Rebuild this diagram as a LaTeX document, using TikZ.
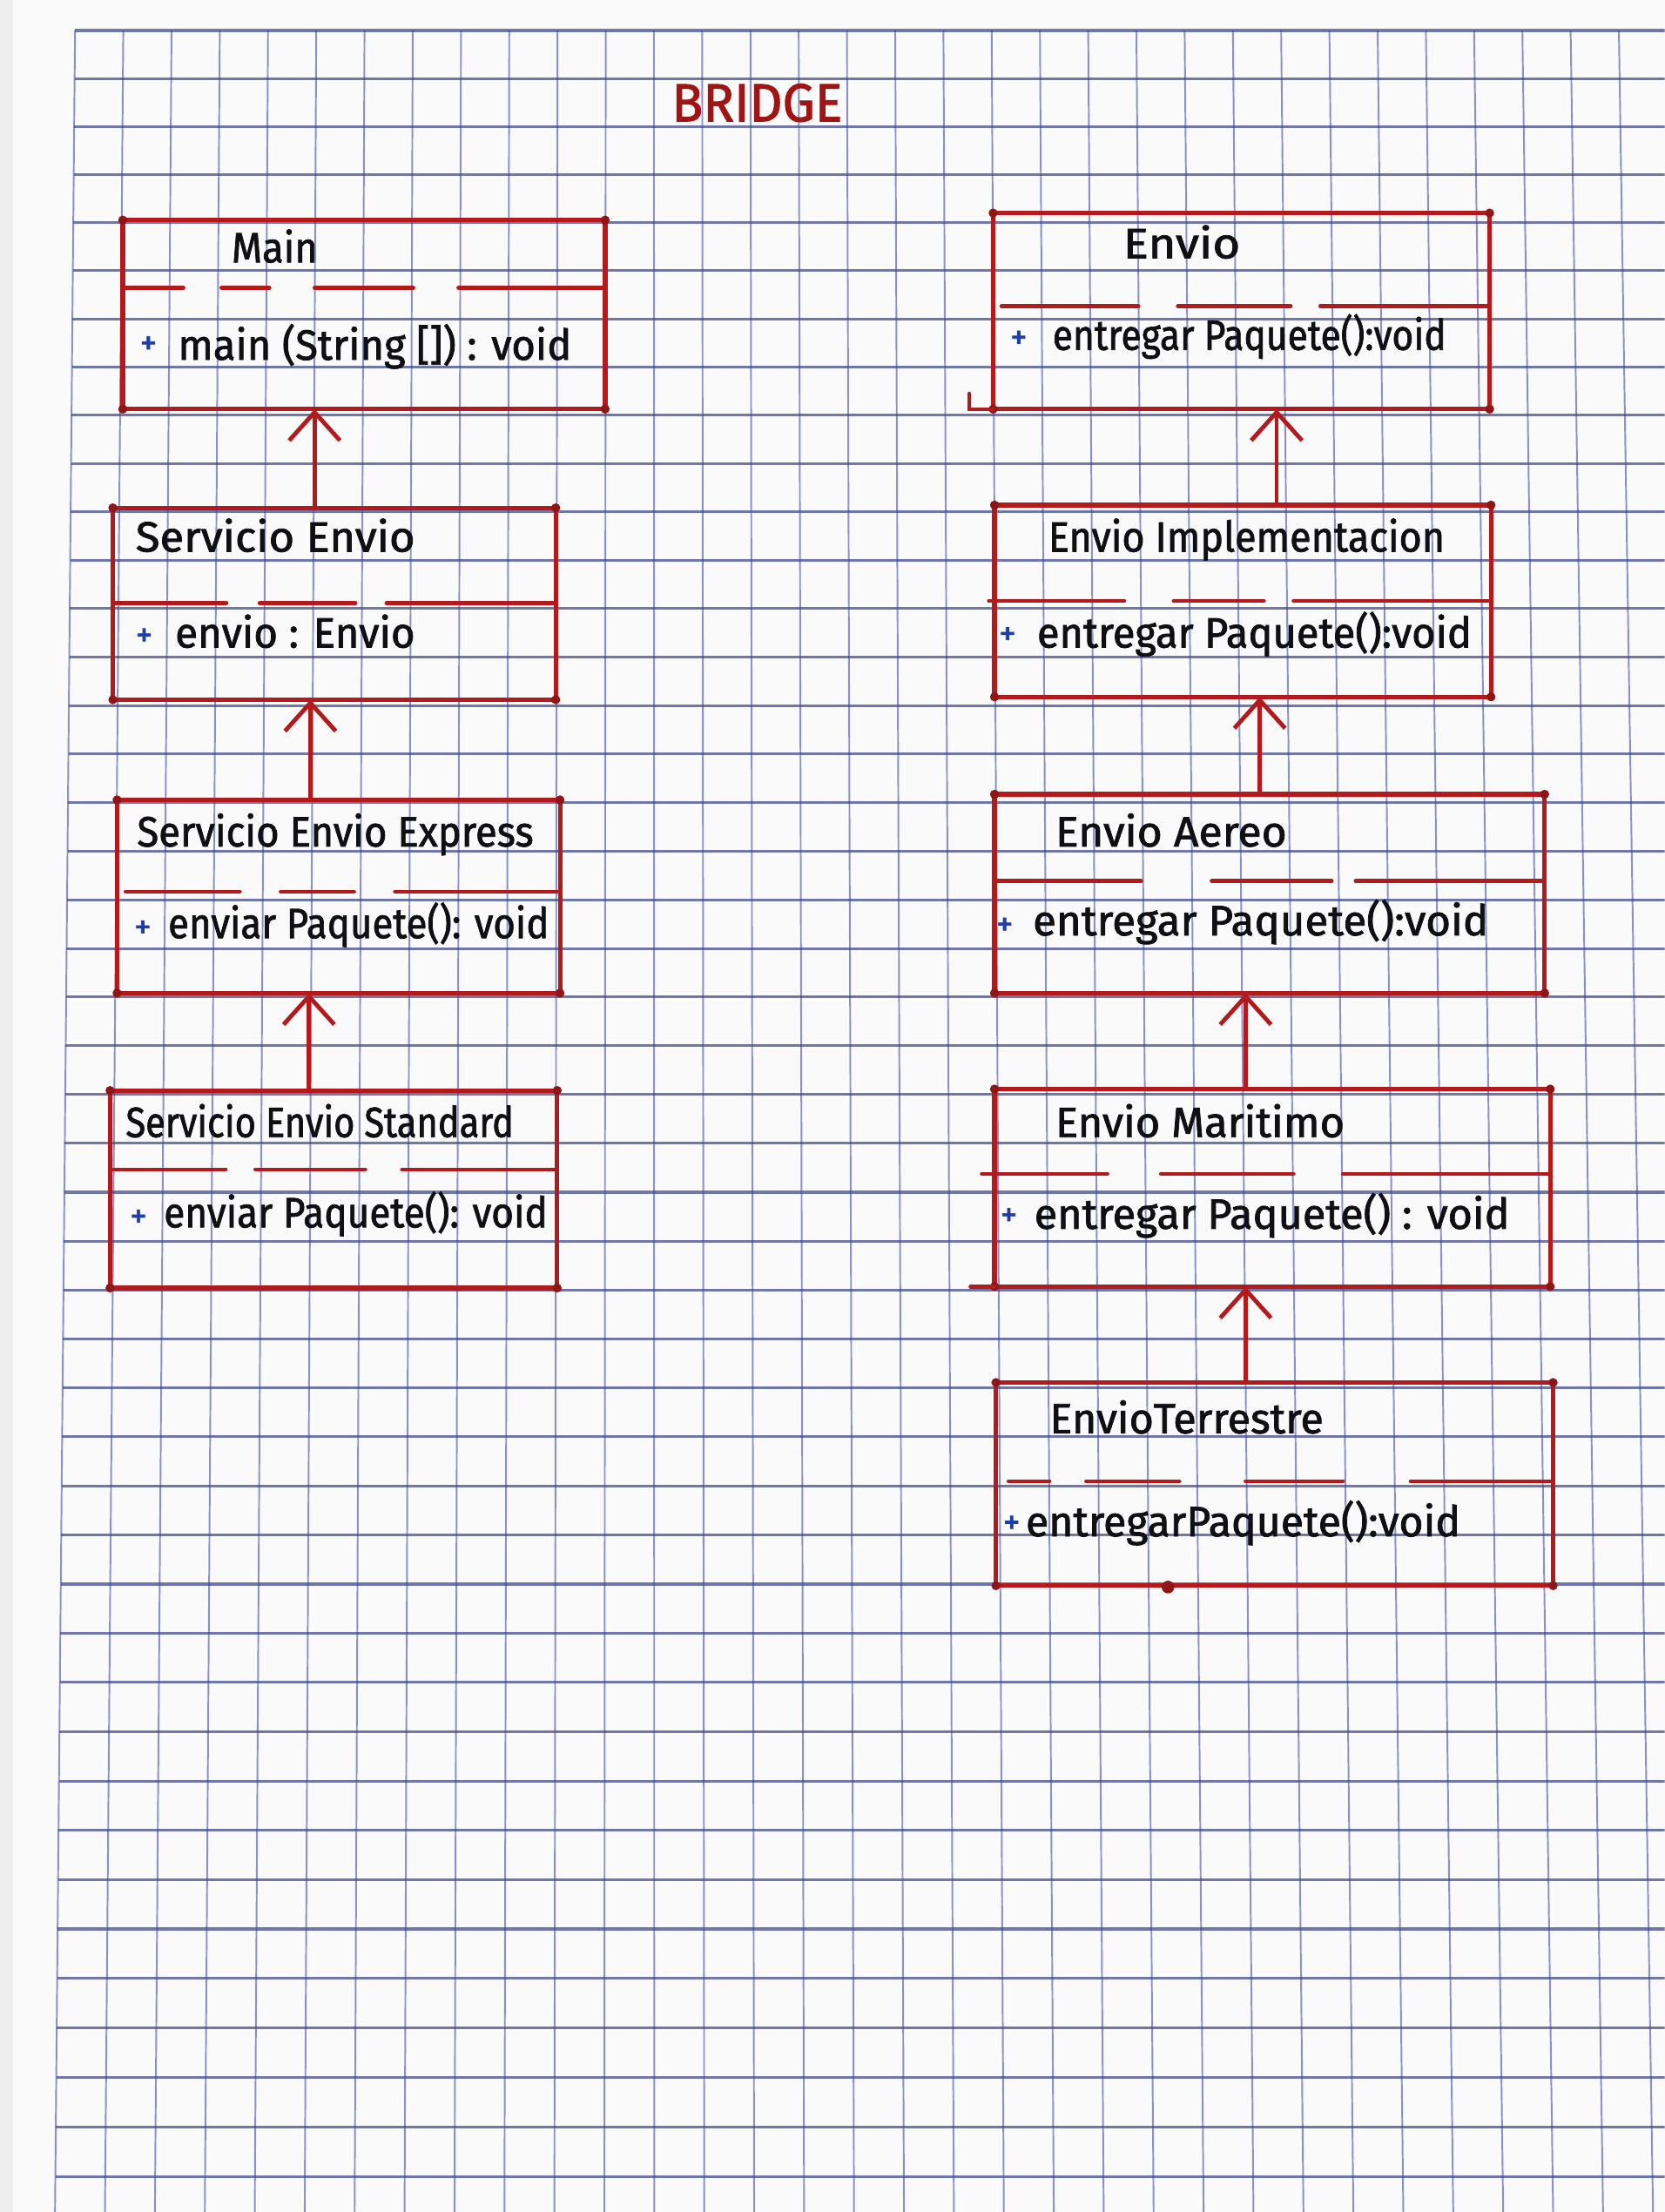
\documentclass[tikz,border=0pt]{standalone}
\usepackage{fontspec}
\setmainfont[FakeBold=1.6]{Fira Sans}
\usetikzlibrary{arrows.meta}
\definecolor{boxred}{RGB}{180,26,28}
\definecolor{titlered}{RGB}{160,20,20}
\definecolor{gridh}{RGB}{60,70,140}
\definecolor{gridv}{RGB}{90,100,185}
\definecolor{plusblue}{RGB}{30,60,170}
\definecolor{ink}{RGB}{15,15,20}
\newcommand{\hwt}[2]{\resizebox{#1pt}{\height}{#2}}
\begin{document}
\begin{tikzpicture}[x=1pt,y=-1pt,
  box/.style={draw=boxred, line width=3.2pt, inner sep=0pt, outer sep=0pt},
  sepline/.style={draw=boxred, line width=2.8pt, line cap=round},
  inh/.style={draw=boxred, line width=3pt, line cap=round, -{Straight Barb[length=20pt,width=36pt]}},
  ttl/.style={anchor=base west, inner sep=0pt, text=ink, font=\fontsize{30}{32}\selectfont},
  plus/.style={anchor=base west, inner sep=0pt, text=plusblue, font=\fontsize{24}{26}\selectfont},
  corner/.style={fill=boxred!80!black}
]
\useasboundingbox (0,0) rectangle (1180,1568);
\fill[black!2] (0,0) rectangle (1180,1568);
\fill[black!7] (0,0) rectangle (9,1568);
% grid paper
\begin{scope}
\clip (0,0) rectangle (1180,1568);
\foreach \k in {0,...,34} {
  \draw[gridv, line width=1.2pt, opacity=0.7] ({53.2+34.2*\k},21.6) -- ({39+35.4*\k},1568);
}
\foreach \m in {0,...,45} {
  \pgfmathsetmacro\yy{21.6+34*\m+0.013*\m*\m}
  \pgfmathsetmacro\xx{53.2-0.009183*(\yy-21.6)}
  \draw[gridh, line width=1.9pt, opacity=0.72] (\xx,\yy) -- (1180,\yy);
}
\end{scope}

% title
\node[anchor=base west, inner sep=0pt, text=titlered, font=\fontsize{38}{40}\selectfont] (title) at (476,86) {\hwt{121}{BRIDGE}};

% boxes left column
\node[box, minimum width=342pt, minimum height=134pt] (main) at (258,223) {};
\node[box, minimum width=314pt, minimum height=136pt] (se) at (237,428) {};
\node[box, minimum width=314pt, minimum height=137pt] (sex) at (240,635.5) {};
\node[box, minimum width=317pt, minimum height=140pt] (ses) at (236.5,843) {};
% boxes right column
\node[box, minimum width=352pt, minimum height=139pt] (envio) at (880,220.5) {};
\node[box, minimum width=352pt, minimum height=136pt] (impl) at (881,426) {};
\node[box, minimum width=390pt, minimum height=141pt] (aereo) at (900,633.5) {};
\node[box, minimum width=394pt, minimum height=140pt] (mar) at (902,842) {};
\node[box, minimum width=395pt, minimum height=144pt] (terr) at (903.5,1052) {};

\foreach \n in {main,se,sex,ses,envio,impl,aereo,mar,terr} {
  \foreach \a in {north west,north east,south west,south east} {
    \fill[corner] (\n.\a) circle (3.2);
  }
}

% separators (hand-drawn, broken)
\draw[sepline] (87,204) -- (130,204) (157,204) -- (191,204) (223,204) -- (293,204) (325,204) -- (428,204);
\draw[sepline] (81.5,427.5) -- (160.5,427.5) (184,427.5) -- (252,427.5) (274,427.5) -- (394,427.5);
\draw[sepline] (89,632) -- (170,632) (199,632) -- (251,632) (280,632) -- (395,632);
\draw[sepline] (78,829) -- (160,829) (181,829) -- (259,829) (285,829) -- (394,829);
\draw[sepline] (710,217) -- (807,217) (835,217) -- (915,217) (936,217) -- (1054,217);
\draw[sepline] (701,426) -- (797,426) (832,426) -- (896,426) (917,426) -- (1055,426);
\draw[sepline] (707,624.5) -- (809,624.5) (859,624.5) -- (944,624.5) (961,624.5) -- (1094,624.5);
\draw[sepline] (696,832) -- (785,832) (823,832) -- (917,832) (952,832) -- (1097,832);
\draw[sepline] (715,1050) -- (744,1050) (770,1050) -- (836,1050) (883,1050) -- (952,1050) (1000,1050) -- (1099,1050);

% small hand-drawn extras
\draw[sepline] (envio.south west) -- (687,290) -- (687,279);
\draw[sepline] (mar.south west) -- (688,912);
\fill[corner] (828,1125) circle (4.5);

% texts left column
\node[ttl] (mainT) at (164,186) {\hwt{61}{Main}};
\node[plus] (mainP) at (99,251) {+};
\node[ttl] (mainM) at (126,255) {\hwt{279}{main (String []) : void}};

\node[ttl] (seT) at (96,391) {\hwt{198}{Servicio Envio}};
\node[plus] (seP) at (96,458) {+};
\node[ttl] (seA) at (124,459) {\hwt{170}{envio : Envio}};

\node[ttl] (sexT) at (97,600) {\hwt{281}{Servicio Envio Express}};
\node[plus] (sexP) at (95,665) {+};
\node[ttl] (sexM) at (119,665) {\hwt{270}{enviar Paquete(): void}};

\node[ttl] (sesT) at (89,806) {\hwt{275}{Servicio Envio Standard}};
\node[plus] (sesP) at (92,870) {+};
\node[ttl] (sesM) at (116,870) {\hwt{272}{enviar Paquete(): void}};

% texts right column
\node[ttl] (envioT) at (796,183) {\hwt{83}{Envio}};
\node[plus] (envioP) at (716,247) {+};
\node[ttl] (envioM) at (746,248) {\hwt{279}{entregar Paquete():void}};

\node[ttl] (implT) at (743,391) {\hwt{281}{Envio Implementacion}};
\node[plus] (implP) at (708,457) {+};
\node[ttl] (implM) at (735,459) {\hwt{308}{entregar Paquete():void}};

\node[ttl] (aereoT) at (748,600) {\hwt{164}{Envio Aereo}};
\node[plus] (aereoP) at (706,663) {+};
\node[ttl] (aereoM) at (732,663) {\hwt{323}{entregar Paquete():void}};

\node[ttl] (marT) at (748,806) {\hwt{205}{Envio Maritimo}};
\node[plus] (marP) at (709,869) {+};
\node[ttl] (marM) at (733,871) {\hwt{337}{entregar Paquete() : void}};

\node[ttl] (terrT) at (744,1016) {\hwt{194}{EnvioTerrestre}};
\node[plus] (terrP) at (711,1087) {+};
\node[ttl] (terrM) at (727,1089) {\hwt{308}{entregarPaquete():void}};

% inheritance arrows
\draw[inh] ([xshift=-14pt]se.north) -- ([xshift=-35pt]main.south);
\draw[inh] ([xshift=-20pt]sex.north) -- ([xshift=-17pt]se.south);
\draw[inh] ([xshift=-17.5pt]ses.north) -- ([xshift=-21pt]sex.south);
\draw[inh] ([xshift=24pt]impl.north) -- ([xshift=25pt]envio.south);
\draw[inh] ([xshift=-7pt]aereo.north) -- ([xshift=12pt]impl.south);
\draw[inh] ([xshift=-19pt]mar.north) -- ([xshift=-17pt]aereo.south);
\draw[inh] ([xshift=-20.5pt]terr.north) -- ([xshift=-19pt]mar.south);
\end{tikzpicture}
\end{document}
